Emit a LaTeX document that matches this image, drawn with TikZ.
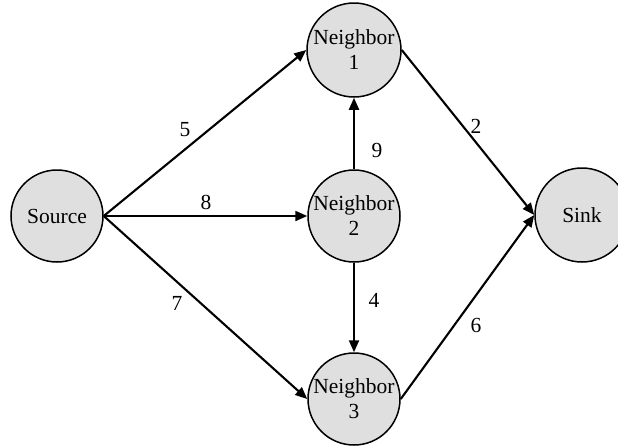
\documentclass[tikz,border=0pt]{standalone}
\usepackage{fontspec}
\setmainfont{Liberation Serif}
\usetikzlibrary{arrows.meta}
\definecolor{nodefill}{RGB}{223,223,223}
\tikzset{
  vertex/.style={circle, draw=black, line width=1.5pt, fill=nodefill,
    minimum size=92pt, inner sep=0pt, align=center,
    font=\fontsize{21.5}{25}\selectfont},
  flow/.style={line width=2.1pt, -{Triangle[length=12pt,width=10pt]}},
  weight/.style={inner sep=0pt, font=\fontsize{21.5}{25}\selectfont}
}
\begin{document}
\begin{tikzpicture}[x=1pt, y=-1pt]
  \clip (0,0) rectangle (618,445);
  \fill[white] (0,0) rectangle (618,445);

  % vertices of the flow network
  \node[vertex] (src) at (57,216) {Source};
  \node[vertex, minimum size=94pt] (n1)  at (354,50) {Neighbor\\1};
  \node[vertex] (n2)  at (354,216) {Neighbor\\2};
  \node[vertex] (n3)  at (354,399) {Neighbor\\3};
  \node[vertex, minimum size=94pt] (sink) at (582,215) {Sink};

  % capacity-weighted edges
  \draw[flow] (src.east) -- (n1.west);
  \draw[flow] (src.east) -- (n2.west);
  \draw[flow] (src.east) -- (n3.west);
  \draw[flow] (n2.north) -- (n1.south);
  \draw[flow] (n2.south) -- (n3.north);
  \draw[flow] (n1.east) -- (sink.west);
  \draw[flow] (n3.east) -- (sink.west);

  % edge weights
  \node[weight] (w5) at (185,130) {5};
  \node[weight] (w8) at (206,202) {8};
  \node[weight] (w7) at (177,303) {7};
  \node[weight] (w9) at (377,150) {9};
  \node[weight] (w4) at (374,300) {4};
  \node[weight] (w2) at (476,126) {2};
  \node[weight] (w6) at (476,325) {6};
\end{tikzpicture}
\end{document}
